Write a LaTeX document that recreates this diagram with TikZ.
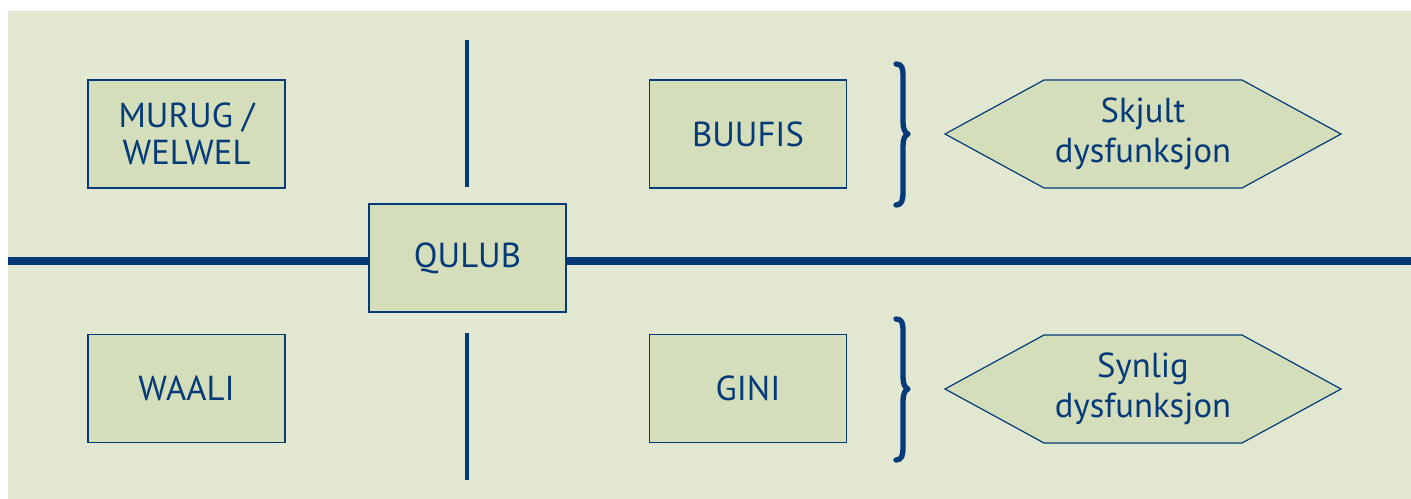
\documentclass[tikz,border=0pt]{standalone}
\usepackage{fontspec}
\setmainfont{PT Sans}
\definecolor{bgc}{HTML}{E1E7D1}
\definecolor{boxc}{HTML}{D4DEBB}
\definecolor{navy}{HTML}{053A78}
\begin{document}
\begin{tikzpicture}[x=0.75pt,y=-0.75pt,
  box/.style={draw=navy,line width=1pt,fill=boxc,minimum width=147.75pt,minimum height=81pt,inner sep=0pt,align=center,text=navy,font=\fontsize{26}{28}\selectfont},
  hextext/.style={align=center,text=navy,font=\fontsize{26}{30}\selectfont,inner sep=0pt},
  hexshape/.style={draw=navy,line width=0.9pt,fill=boxc},
  thickline/.style={navy,line width=6.5pt},
  vline/.style={navy,line width=3pt},
  bracestyle/.style={navy,line width=4pt,line cap=round,line join=round}]
\useasboundingbox (0,0) rectangle (1411,499);
\fill[white] (0,0) rectangle (1411,499);
\fill[bgc] (8,11) rectangle (1411,499);
% lines
\coordinate (hl) at (8,261);
\coordinate (hr) at (1411,261);
\coordinate (vt1) at (467,40);
\coordinate (vt2) at (467,187);
\coordinate (vb1) at (467,333);
\coordinate (vb2) at (467,480);
\draw[vline] (vt1) -- (vt2);
\draw[vline] (vb1) -- (vb2);
\node[box] (qulub) at (467.5,258) {QULUB};
\draw[thickline] (hl) -- (qulub.west |- hl);
\draw[thickline] (qulub.east |- hr) -- (hr);
\node[box] (murug) at (186.5,134) {MURUG /\\WELWEL};
\node[box] (waali) at (186.5,388.5) {WAALI};
\node[box] (buufis) at (748,134) {BUUFIS};
\node[box] (gini) at (748,388.5) {GINI};
% braces
\foreach \yc/\nm in {134/bt, 389/bb}{
  \draw[bracestyle] (896,\yc-70) .. controls (902,\yc-70) and (903,\yc-66) .. (903,\yc-58) -- (903,\yc-12) .. controls (903,\yc-5) and (905,\yc-1) .. (908,\yc) .. controls (905,\yc+1) and (903,\yc+5) .. (903,\yc+12) -- (903,\yc+58) .. controls (903,\yc+66) and (902,\yc+71) .. (896,\yc+71);
}
% hexagons
\draw[hexshape] (945,134) -- (1044,80) -- (1242,80) -- (1341,134) -- (1242,188) -- (1044,188) -- cycle;
\node[hextext] (skjult) at (1143,134) {Skjult\\dysfunksjon};
\draw[hexshape] (945,389) -- (1044,335) -- (1242,335) -- (1341,389) -- (1242,443) -- (1044,443) -- cycle;
\node[hextext] (synlig) at (1143,389) {Synlig\\dysfunksjon};
\end{tikzpicture}
\end{document}
